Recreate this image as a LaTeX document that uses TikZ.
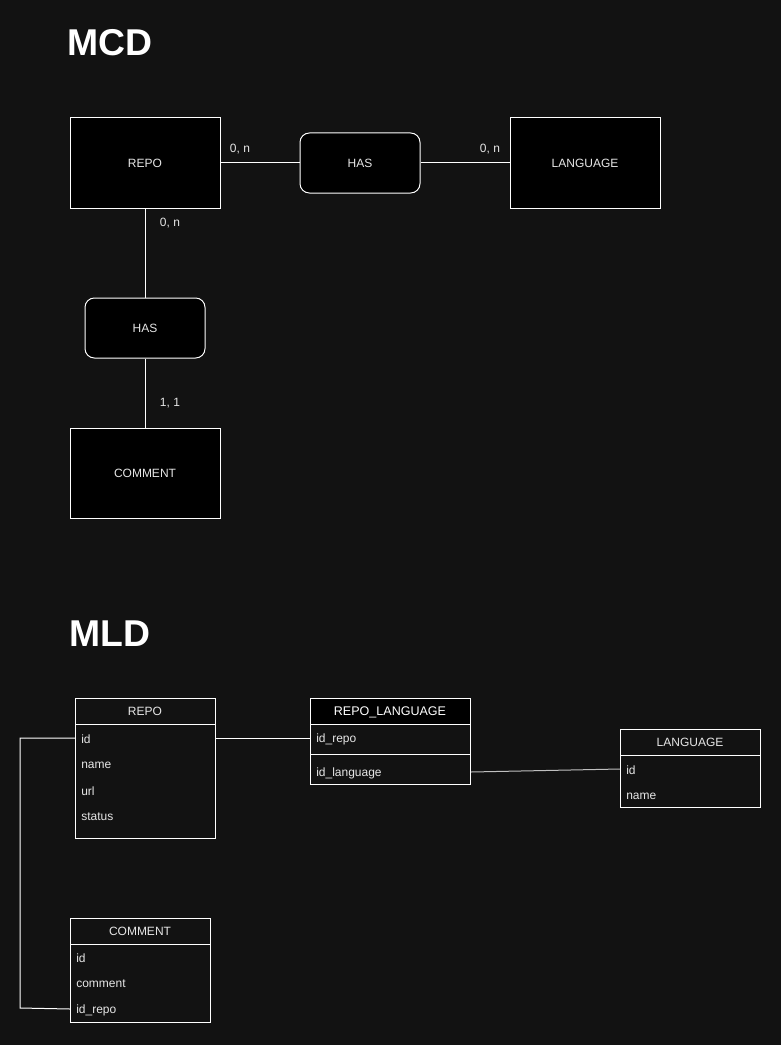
\documentclass[tikz,border=0pt]{standalone}
\usepackage{fontspec}
\setmainfont{Liberation Sans}
\begin{document}
\begin{tikzpicture}[x=0.75pt,y=-0.75pt,
  every node/.style={font=\fontsize{9}{10}\selectfont, text=txt},
  ent/.style={draw=white, fill=black, line width=0.75pt, minimum width=112.5pt, minimum height=67.5pt, inner sep=0pt},
  rel/.style={draw=white, fill=black, line width=0.75pt, rounded corners=7pt, minimum width=90pt, minimum height=45pt, inner sep=0pt},
  tbl/.style={draw=white, line width=0.75pt, inner sep=0pt, anchor=north west},
  row/.style={anchor=west, inner sep=0pt},
  lbl/.style={inner sep=0pt},
  conn/.style={draw=white, line width=0.75pt},
  title/.style={font=\fontsize{28}{30}\selectfont\bfseries, text=white, anchor=base west, inner sep=0pt}
]
\definecolor{bg}{HTML}{121212}
\definecolor{txt}{HTML}{E6E6E6}
\useasboundingbox[fill=bg] (0,0) rectangle (781,1045);

% ---------- MCD ----------
\node[title] (tmcd) at (67,56) {MCD};
\node[ent] (repo) at (145,163) {REPO};
\node[rel] (has1) at (360,163) {HAS};
\node[ent] (lang) at (585,163) {LANGUAGE};
\node[rel] (has2) at (145,328) {HAS};
\node[ent] (comm) at (145,473) {COMMENT};
\draw[conn] (repo.east) -- (has1.west);
\draw[conn] (has1.east) -- (lang.west);
\draw[conn] (repo.south) -- (has2.north);
\draw[conn] (has2.south) -- (comm.north);
\node[lbl] (l1) at (240,149) {0, n};
\node[lbl] (l2) at (490,149) {0, n};
\node[lbl] (l3) at (170,223) {0, n};
\node[lbl] (l4) at (170,403) {1, 1};

% ---------- MLD ----------
\node[title] (tmld) at (69,646) {MLD};

% REPO table
\node[tbl, minimum width=105pt, minimum height=105pt] (trepo) at (75,698) {};
\draw[conn] (75,724) -- (215,724);
\node[lbl] (hrepo) at (145,711) {REPO};
\node[row] (rid) at (81,739) {id};
\node[row] (rname) at (81,765) {name};
\node[row] (rurl) at (81,791) {url};
\node[row] (rstatus) at (81,817) {status};

% REPO_LANGUAGE table
\node[tbl, minimum width=120pt, minimum height=64.5pt] (trl) at (310,698) {};
\fill[black] (310,698) rectangle (470,724);
\draw[conn] (310,698) rectangle (470,784);
\draw[conn] (310,724) -- (470,724);
\draw[conn] (310,754) -- (470,754);
\node[lbl, text=white] (hrl) at (390,712) {\fontsize{9.4}{10}\selectfont REPO\_LANGUAGE};
\node[row] (rlrepo) at (316,739) {id\_repo};
\node[row] (rllang) at (316,773) {id\_language};

% LANGUAGE table
\node[tbl, minimum width=105pt, minimum height=58.5pt] (tlang) at (620,729) {};
\draw[conn] (620,755) -- (760,755);
\node[lbl] (hlang) at (690,742) {LANGUAGE};
\node[row] (lid) at (626,770) {id};
\node[row] (lname) at (626,796) {name};

% COMMENT table
\node[tbl, minimum width=105pt, minimum height=78pt] (tcomm) at (70,918) {};
\draw[conn] (70,944) -- (210,944);
\node[lbl] (hcomm) at (140,931) {COMMENT};
\node[row] (cid) at (76,958) {id};
\node[row] (ccomm) at (76,984) {comment};
\node[row] (crepo) at (76,1010) {id\_repo};

% connectors
\draw[conn] (trepo.east |- 0,738) -- (trl.west |- 0,738);
\draw[conn, draw=white!75!black] (trl.east |- 0,772) -- (tlang.west |- 0,769);
\coordinate (k1) at (20,738);
\coordinate (k2) at (20,1008);
\draw[conn] (trepo.west |- k1) -- (k1) -- (k2) -- (tcomm.west |- 0,1009);
\end{tikzpicture}
\end{document}
